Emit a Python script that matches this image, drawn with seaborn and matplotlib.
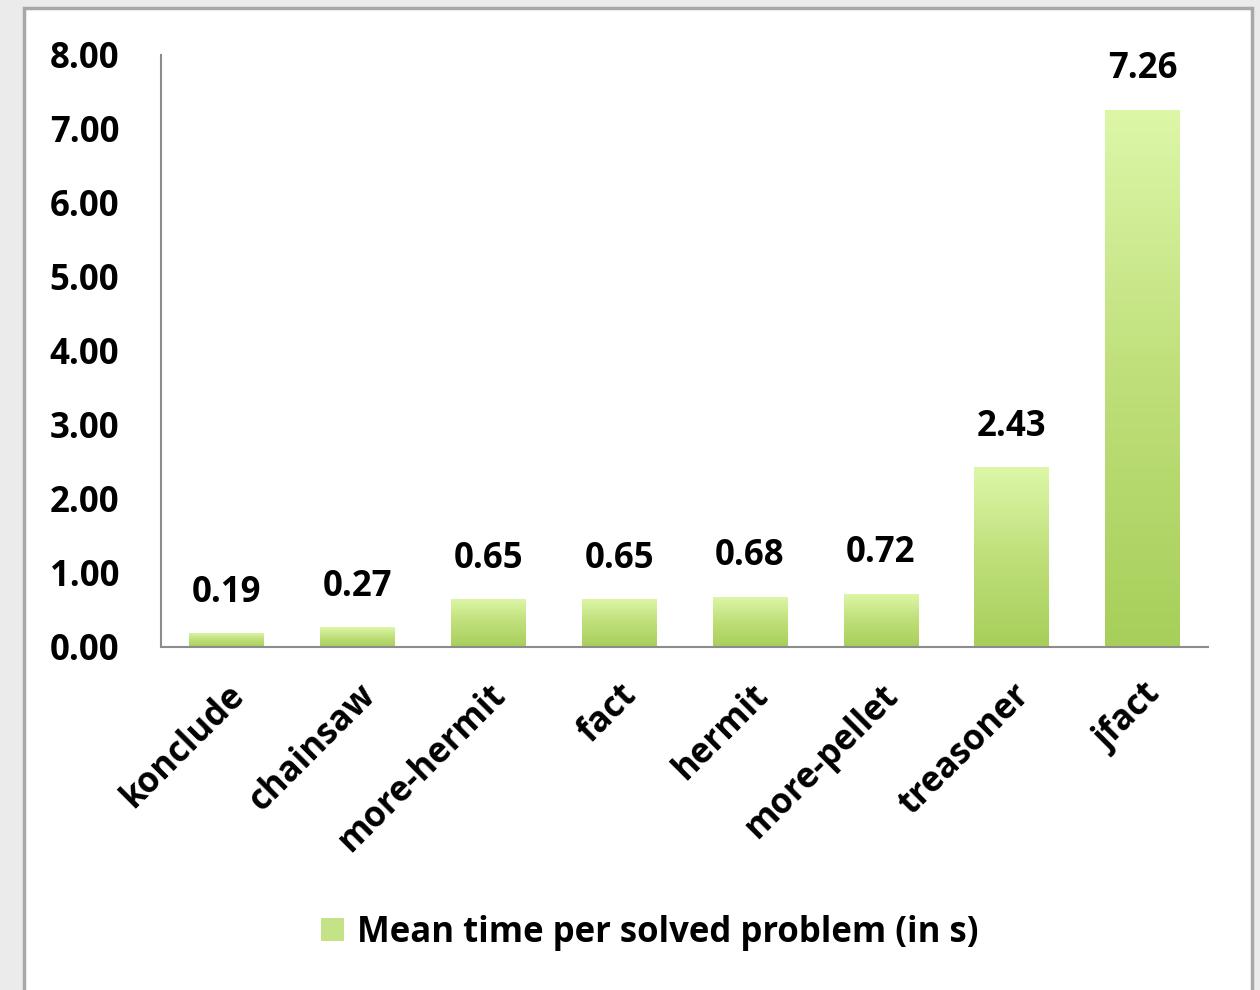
import matplotlib
matplotlib.use("Agg")
import matplotlib.pyplot as plt
import seaborn as sns
import numpy as np
from matplotlib.patches import Rectangle, Patch
from matplotlib.colors import LinearSegmentedColormap

tools = ["konclude", "chainsaw", "more-hermit", "fact", "hermit", "more-pellet", "treasoner", "jfact"]
mean_times = [0.19, 0.27, 0.65, 0.65, 0.68, 0.72, 2.43, 7.26]
y_ticks = [0, 1, 2, 3, 4, 5, 6, 7, 8]
legend_label = "Mean time per solved problem (in s)"

sns.set_theme(style="white")
plt.rcParams["font.family"] = ["Open Sans", "DejaVu Sans"]
plt.rcParams["font.weight"] = "bold"
plt.rcParams["text.color"] = "black"

FS = 25

fig = plt.figure(figsize=(12.6, 9.9), dpi=100, facecolor="#ebebeb")
# white panel
fig.patches.append(Rectangle((24 / 1260, -0.05), (1252 - 24) / 1260, 1.05 - 8 / 990,
                             transform=fig.transFigure, facecolor="white",
                             edgecolor="#a8a8a8", linewidth=2.5, zorder=-10))

ax = fig.add_axes([161 / 1260, 1 - 647 / 990, (1208 - 161) / 1260, (647 - 55) / 990])
ax.set_facecolor("none")

sns.barplot(x=tools, y=mean_times, ax=ax, color="#bfdf80", width=0.57, saturation=1)

cmap = LinearSegmentedColormap.from_list("g", ["#a7cf5a", "#bfdf7a", "#ddf7a8"])
grad = np.linspace(0, 1, 256).reshape(-1, 1)
for bar in ax.patches:
    x0, y0 = bar.get_x(), bar.get_y()
    w, h = bar.get_width(), bar.get_height()
    bar.set_edgecolor("none")
    im = ax.imshow(grad, cmap=cmap, origin="lower", aspect="auto",
                   extent=[x0, x0 + w, y0, y0 + h], zorder=bar.get_zorder() + 0.1)
    im.set_clip_path(bar)

for i, v in enumerate(mean_times):
    ax.annotate(f"{v:.2f}", (i, v), xytext=(0, 29), textcoords="offset points",
                ha="center", va="center", fontsize=FS, fontweight="bold", color="black")

ax.set_xlim(-0.5, len(tools) - 0.5)
ax.set_ylim(0, 8)
ax.set_yticks(y_ticks)
ax.set_yticklabels([f"{t:.2f}" for t in y_ticks], fontsize=FS, fontweight="bold")
ax.set_xticks(range(len(tools)))
ax.set_xticklabels(tools, rotation=45, ha="right", rotation_mode="anchor",
                   fontsize=FS, fontweight="bold")
ax.tick_params(axis="both", length=0, colors="black")
ax.tick_params(axis="y", pad=30)
ax.tick_params(axis="x", pad=22)
for s in ["top", "right"]:
    ax.spines[s].set_visible(False)
for s in ["left", "bottom"]:
    ax.spines[s].set_color("#8c8c8c")
    ax.spines[s].set_linewidth(1.5)

handle = Patch(facecolor="#c4e386", edgecolor="none")
fig.legend([handle], [legend_label], loc="center", bbox_to_anchor=(650 / 1260, 1 - 933 / 990),
           frameon=False, prop={"weight": "bold", "size": FS},
           handlelength=0.65, handleheight=0.65, handletextpad=0.4)

fig.savefig("out.png", dpi=100, facecolor=fig.get_facecolor())
